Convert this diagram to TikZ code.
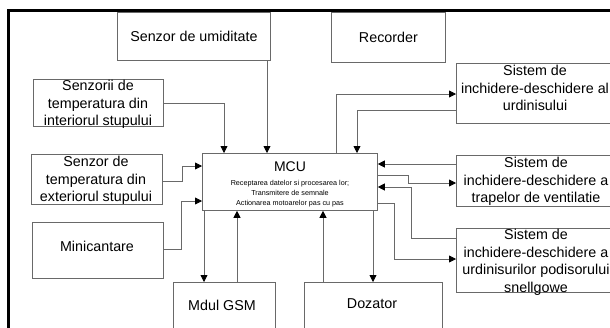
\documentclass[tikz,border=0pt]{standalone}
\usepackage{fontspec}
\setmainfont{Liberation Sans}
\usetikzlibrary{arrows.meta}
\definecolor{linegray}{RGB}{105,105,105}
\newcommand{\bodyfont}{\fontsize{14.3}{17.5}\selectfont}
\newcommand{\tinyfont}{\fontsize{7.2}{10}\selectfont}
\begin{document}
\begin{tikzpicture}[x=1pt,y=-1pt,
  box/.style={draw=linegray, line width=0.8pt, inner sep=0pt, anchor=north west, font=\bodyfont},
  txt/.style={font=\bodyfont, align=center, inner sep=0pt, text=black},
  smalltxt/.style={font=\tinyfont, align=center, inner sep=0pt, text=black},
  arr/.style={draw=linegray, line width=0.8pt, -{Triangle[length=7pt,width=7pt,color=black]}},
  frameline/.style={line width=3pt, black}]
\clip (0,0) rectangle (610,327);
\fill[white] (0,0) rectangle (610,327);

% boxes
\node[box, minimum width=153pt, minimum height=48pt] (hum) at (117,12) {Senzor de umiditate};
\node[box, minimum width=114pt, minimum height=50pt] (rec) at (331,12) {Recorder};
\node[box, minimum width=130pt, minimum height=47pt] (int) at (33,79) {};
\node[box, minimum width=131pt, minimum height=50pt] (ext) at (31,154) {};
\node[box, minimum width=131pt, minimum height=56pt] (mini) at (32,222) {};
\node[box, minimum width=175pt, minimum height=57pt] (mcu) at (202,153) {};
\node[box, minimum width=102pt, minimum height=60pt] (gsm) at (173,282) {};
\node[box, minimum width=138pt, minimum height=60pt] (doz) at (304,282) {};
\node[box, minimum width=158pt, minimum height=60pt] (s1) at (456,63) {};
\node[box, minimum width=158pt, minimum height=51pt] (s2) at (456,155) {};
\node[box, minimum width=158pt, minimum height=64pt] (s3) at (456,228) {};

% texts
\node[txt, anchor=north] (intT) at (98,80) {Senzorii de\\temperatura din\\interiorul stupului};
\node[txt, anchor=north] (extT) at (96,156) {Senzor de\\temperatura din\\exteriorul stupului};
\node[txt] (miniT) at (97,246) {Minicantare};
\node[txt] (gsmT) at (222,305) {Mdul GSM};
\node[txt] (dozT) at (372,304) {Dozator};
\node[txt, anchor=north] (s1T) at (535,65) {Sistem de\\inchidere-deschidere al\\urdinisului};
\node[txt, anchor=north] (s2T) at (536,157) {Sistem de\\inchidere-deschidere a\\trapelor de ventilatie};
\node[txt, anchor=north] (s3T) at (536,229) {Sistem de\\inchidere-deschidere a\\urdinisurilor podisorului\\snellgowe};
\node[txt, font=\fontsize{14}{17}\selectfont] (mcuT) at (290,167) {MCU};
\node[smalltxt, anchor=north] (mcuD) at (290,180) {Receptarea datelor si procesarea lor;\\Transmitere de semnale\\Actionarea motoarelor pas cu pas};

% connectors
\draw[arr] (hum.south -| 267,0) -- (mcu.north -| 267,0);
\draw[arr] (int.east |- 0,103) -| (mcu.north -| 224,0);
\draw[arr] (ext.east |- 0,181) -- ++(20,0) |- (mcu.west |- 0,166);
\draw[arr] (mini.east |- 0,249) -- ++(18,0) |- (mcu.west |- 0,201);
\draw[arr] (mcu.south -| 204,0) -- (gsm.north -| 204,0);
\draw[arr] (gsm.north -| 237,0) -- (mcu.south -| 237,0);
\draw[arr] (doz.north -| 323,0) -- (mcu.south -| 323,0);
\draw[arr] (mcu.south -| 373,0) -- (doz.north -| 373,0);
\draw[arr] (mcu.north -| 336,0) |- (s1.west |- 0,94);
\draw[arr] (s1.west |- 0,110) -| (mcu.north -| 357,0);
\draw[arr] (s2.west |- 0,164) -- (mcu.east |- 0,164);
\draw[arr] (mcu.east |- 0,175) -- ++(31,0) |- (s2.west |- 0,183);
\draw[arr] (s3.west |- 0,238) -- ++(-45,0) |- (mcu.east |- 0,187);
\draw[arr] (mcu.east |- 0,203) -- ++(17,0) |- (s3.west |- 0,259);

% outer frame
\draw[frameline] (8.2,335) -- (8.2,10.5) -- (615,10.5);
\end{tikzpicture}
\end{document}
